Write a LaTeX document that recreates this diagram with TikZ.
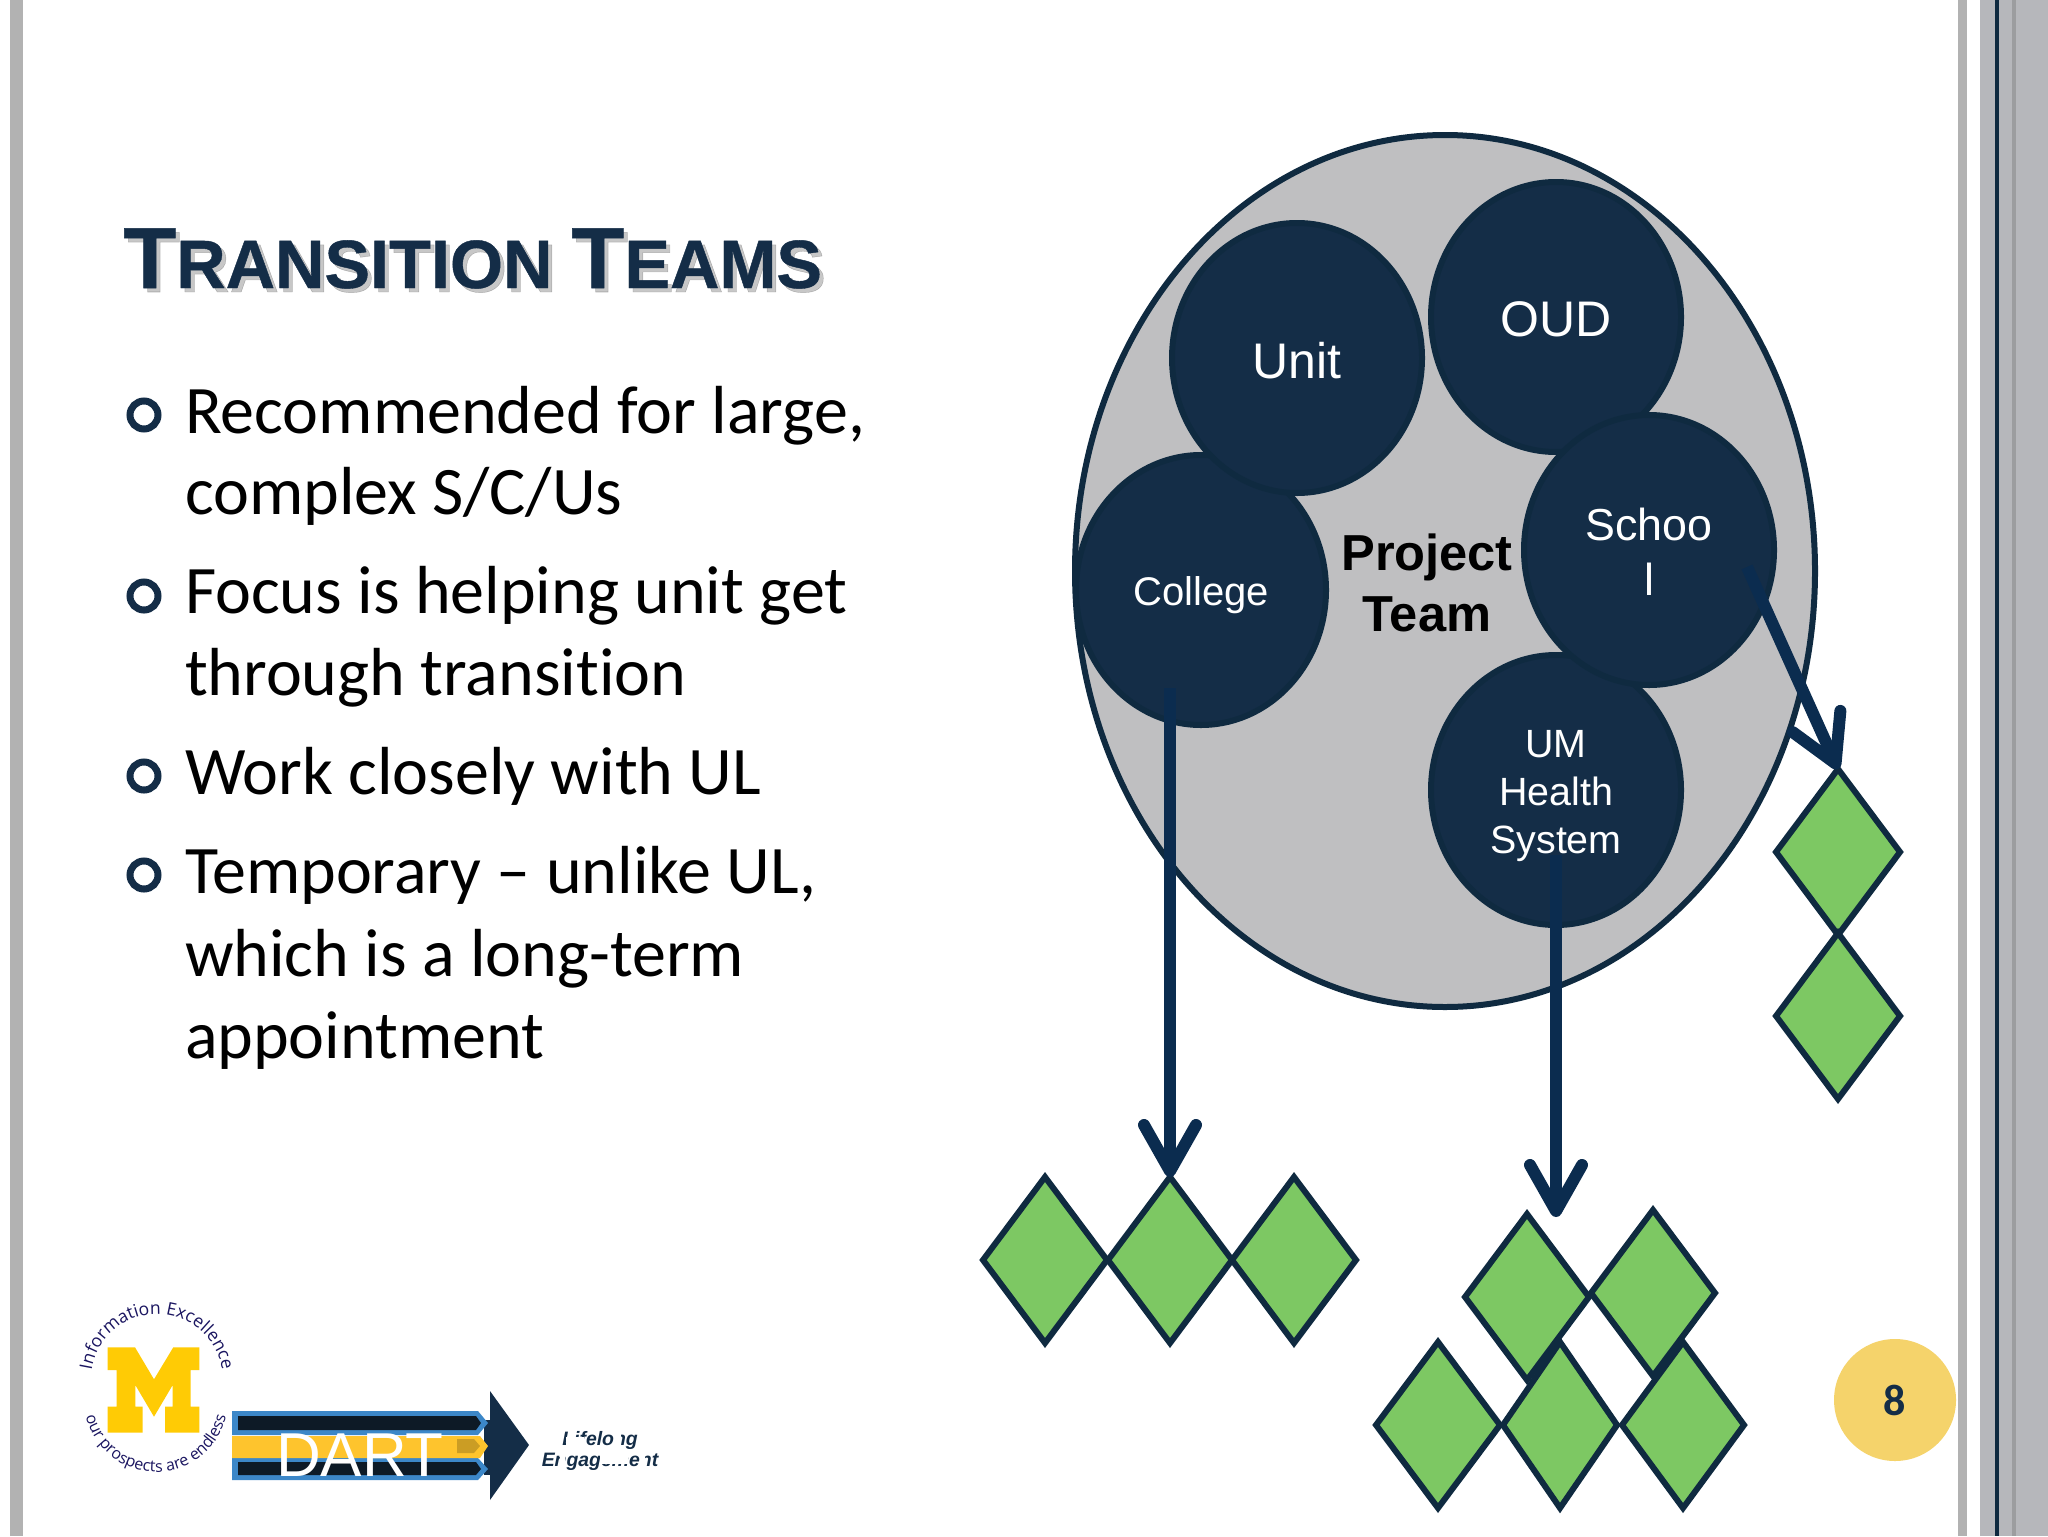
\documentclass[tikz,border=0pt]{standalone}
\usepackage{fontspec}
\setmainfont{Liberation Sans}
\newfontfamily\bodyfont[Ligatures=CommonOff]{Carlito}
\newfontfamily\logofont{Open Sans}
\newfontfamily\titlefont[BoldFeatures={FakeBold=0.6}]{Liberation Sans}
\usetikzlibrary{shapes.geometric,arrows.meta,decorations.text}
\definecolor{navy}{HTML}{142D47}
\definecolor{edgenavy}{HTML}{0F2A40}
\definecolor{arrownavy}{HTML}{0B2C4F}
\definecolor{leaf}{HTML}{7DC863}
\definecolor{blob}{HTML}{BFBFC1}
\definecolor{stripe}{HTML}{B2B2B2}
\definecolor{rail}{HTML}{B6B7BB}
\definecolor{railb}{HTML}{9C9D9F}
\definecolor{badge}{HTML}{F5D36B}
\definecolor{mgold}{HTML}{FFCB05}
\definecolor{dblue}{HTML}{3C87C8}
\definecolor{dgold}{HTML}{FEC42D}
\definecolor{ddark}{HTML}{0D1A26}
\definecolor{logotext}{HTML}{1A1560}
\tikzset{
  x=0.5pt,y=-0.5pt,
  unitc/.style={ellipse,draw=edgenavy,line width=3pt,fill=navy,text=white,minimum width=125pt,minimum height=135pt,inner sep=0pt,outer sep=0pt,align=center},
  gem/.style={diamond,draw=edgenavy,line width=3pt,fill=leaf,minimum width=62pt,minimum height=83pt,inner sep=0pt,outer sep=0pt},
  flow/.style={draw=arrownavy,line width=6pt,-{Straight Barb[length=23pt,width=26pt,round]}},
  bullettext/.style={anchor=base west,inner sep=0pt,outer sep=0pt,font=\bodyfont\fontsize{34}{40}\selectfont,text=black},
  ring/.style={circle,draw=navy,line width=3.5pt,minimum size=14pt,inner sep=0pt},
}
\begin{document}
\begin{tikzpicture}
\useasboundingbox (0,0) rectangle (2048,1536);
\fill[white] (0,0) rectangle (2048,1536);
% page frame
\fill[stripe] (10,0) rectangle (23,1536);
\fill[stripe] (1958,0) rectangle (1967,1536);
\fill[rail] (1980,0) rectangle (2048,1536);
\fill[edgenavy] (1995,0) rectangle (1999,1536);
\fill[railb] (2012,0) rectangle (2016,1536);
% title
\newcommand{\titletext}{\fontsize{43.3}{50}\selectfont T\fontsize{34.2}{50}\selectfont RANSITION \fontsize{43.3}{50}\selectfont T\fontsize{34.2}{50}\selectfont EAMS}
\node[anchor=base west,inner sep=0pt,text=black,opacity=0.22,font=\titlefont\bfseries] (titleshade) at (127,292) {\titletext};
\node[anchor=base west,inner sep=0pt,text=navy,font=\titlefont\bfseries] (title) at (123,288) {\titletext};
% bullets
\node[ring] (b1) at (144,415) {};
\node[ring] (b2) at (144,596) {};
\node[ring] (b3) at (144,776) {};
\node[ring] (b4) at (144,875) {};
\node[bullettext] (t1a) at (185,433.5) {Recommended for large,};
\node[bullettext] (t1b) at (185,514.5) {complex S/C/Us};
\node[bullettext] (t2a) at (185,613.5) {Focus is helping unit get};
\node[bullettext] (t2b) at (185,695.5) {through transition};
\node[bullettext] (t3a) at (185,794.5) {Work closely with UL};
\node[bullettext] (t4a) at (185,893.5) {Temporary – unlike UL,};
\node[bullettext] (t4b) at (185,976.5) {which is a long-term};
\node[bullettext] (t4c) at (185,1058.5) {appointment};
% big blob
\node[ellipse,draw=edgenavy,line width=3pt,fill=blob,minimum width=370pt,minimum height=436pt,inner sep=0pt,outer sep=0pt] (blobn) at (1445,571) {};
\node[unitc,font=\fontsize{20}{24}\selectfont] (college) at (1201,590) {\rule{0pt}{19.5pt}College};
\node[unitc,font=\fontsize{25}{30}\selectfont] (unit) at (1297,358) {\rule{0pt}{21pt}Unit};
\node[unitc,font=\fontsize{25}{30}\selectfont] (oud) at (1556,317) {\rule{0pt}{20pt}OUD};
\node[unitc,font=\fontsize{19.7}{24}\selectfont] (um) at (1556,790) {\rule{0pt}{19.3pt}UM\\Health\\System};
\node[unitc,font=\fontsize{22.4}{27.5}\selectfont] (school) at (1649,550) {\rule{0pt}{18pt}Schoo\\l};
\node[align=center,inner sep=0pt,text=black,font=\bfseries\fontsize{25.3}{30.5}\selectfont] (project) at (1427,583) {Project\\Team};
% gems
\node[gem] (la) at (1045,1260) {};
\node[gem] (lb) at (1170,1260) {};
\node[gem] (lc) at (1294,1260) {};
\node[gem] (ra) at (1838,852) {};
\node[gem] (rb) at (1838,1016) {};
\node[gem] (ba) at (1527,1297) {};
\node[gem] (bb) at (1653,1293) {};
\node[gem] (bc) at (1438,1425) {};
\node[gem,minimum width=57pt] (bd) at (1560,1425) {};
\node[gem,minimum width=61pt] (be) at (1683,1425) {};
% connectors
\coordinate (cs) at (1170,688);
\coordinate (us) at (1556,855);
\coordinate (ue) at (1556,1217);
\coordinate (ss) at (1747,567);
\draw[flow] (cs) -- (lb.north);
\draw[flow] (us) -- (ue);
\draw[flow] (ss) -- (ra.north);
% badge
\node[circle,fill=badge,minimum size=61pt,inner sep=0pt,text=navy,font=\bodyfont\bfseries\fontsize{22}{26}\selectfont] (pageno) at (1895,1400) {8};
% M logo
\fill[mgold] (107.7,1347.3) -- (135,1347.3) -- (154,1379.3) -- (173.3,1347.3) -- (199.3,1347.3) -- (199.3,1370) -- (190.7,1370) -- (190.7,1406.7) -- (199.3,1406.7) -- (199.3,1432.7) -- (165,1432.7) -- (165,1406.7) -- (172.7,1406.7) -- (172.7,1385) -- (154,1416.7) -- (135.3,1385) -- (135.3,1406.7) -- (142.7,1406.7) -- (142.7,1432.7) -- (107.7,1432.7) -- (107.7,1406.7) -- (116.7,1406.7) -- (116.7,1370) -- (107.7,1370) -- cycle;
\begin{scope}[shift={(157,1380)},x=0.5pt,y=0.5pt]
\path[decorate,decoration={text along path,text align=center,text={|\color{logotext}\logofont\fontsize{8.8}{11}\selectfont|Information Excellence}}] (182:66) arc[start angle=182,end angle=-2,radius=66];
\end{scope}
\begin{scope}[shift={(156,1400)},x=0.5pt,y=0.5pt]
\path[decorate,decoration={text along path,text align=center,text={|\color{logotext}\logofont\fontsize{8}{10}\selectfont|our prospects are endless}}] (185:72) arc[start angle=185,end angle=355,radius=72];
\end{scope}
% DART arrow
\fill[navy] (484,1420) rectangle (492,1475);
\fill[navy] (490,1391) -- (529,1445) -- (490,1500) -- cycle;
\fill[dblue] (232,1411) -- (478,1411) -- (488,1423) -- (478,1435) -- (232,1435) -- cycle;
\fill[ddark] (238,1416) -- (476,1416) -- (481,1423) -- (476,1430) -- (238,1430) -- cycle;
\fill[dblue] (232,1458) -- (478,1458) -- (488,1469) -- (478,1480) -- (232,1480) -- cycle;
\fill[ddark] (238,1462) -- (476,1462) -- (481,1469) -- (476,1475) -- (238,1475) -- cycle;
\fill[dgold] (232,1436) -- (480,1436) -- (488,1446) -- (480,1458) -- (232,1458) -- cycle;
\fill[black!20!dgold] (457,1439) -- (474,1439) -- (480,1446) -- (474,1453) -- (457,1453) -- cycle;
\node[anchor=base,inner sep=0pt,text=white,font=\fontsize{31}{36}\selectfont] (dart) at (360,1476) {DART};
\node[anchor=base,inner sep=0pt,text=navy,font=\bfseries\itshape\fontsize{9.7}{12}\selectfont] (life1) at (600,1445) {Lifelong};
\node[anchor=base,inner sep=0pt,text=navy,font=\bfseries\itshape\fontsize{9.7}{12}\selectfont] (life2) at (600,1466) {Engagement};
% the reference's text is partly rubbed out
\fill[white] (566,1437) rectangle (584,1449);
\fill[white] (614,1431) rectangle (621,1449);
\fill[white] (560,1453) rectangle (565,1471);
\fill[white] (600,1453) rectangle (628,1464);
\fill[white] (640,1453) rectangle (645,1471);
\end{tikzpicture}
\end{document}
